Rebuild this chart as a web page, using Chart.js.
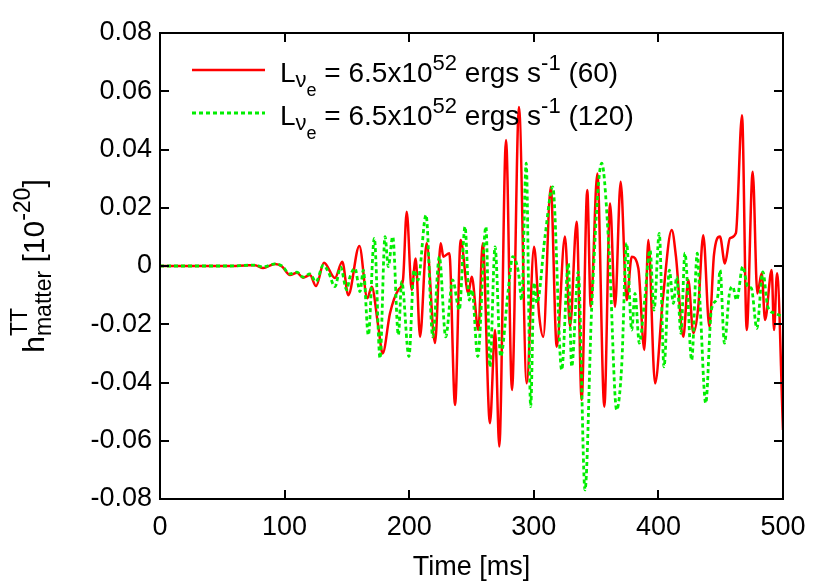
<!DOCTYPE html>
<html>
<head>
<meta charset="utf-8">
<script src="https://cdn.jsdelivr.net/npm/chart.js@4.4.1/dist/chart.umd.min.js"></script>
<style>
  html, body { margin: 0; padding: 0; background: #fff; }
  #wrap { width: 830px; height: 581px; position: relative; }
</style>
</head>
<body>
<div id="wrap"><canvas id="strainChart"></canvas></div>
<script>
// run with 60 angular zones (red, solid)
const time60 = [0, 54.6, 68.2, 76.2, 82.7, 92.3, 97.9, 104.3, 110.0, 114.8, 120.4, 125.2, 131.6, 140.4, 146.3,
  151.1, 160.0, 166.4, 169.9, 175.2, 178.7, 184.6, 191.3, 195.0, 198.0, 202.0, 205.2, 208.7, 214.0, 220.7,
  225.3, 227.4, 232.2, 236.8, 241.3, 247.4, 250.2, 255.5, 259.0, 264.8, 268.9, 272.3, 277.7, 282.5, 288.1,
  294.3, 300.2, 304.4, 307.6, 313.6, 318.4, 325.0, 329.1, 334.4, 338.4, 342.9, 345.7, 351.0, 356.6, 361.2,
  365.2, 369.7, 374.6, 378.6, 383.9, 388.7, 391.9, 397.3, 403.5, 410.7, 414.1, 420.0, 424.0, 428.0, 432.0,
  436.0, 440.9, 444.6, 449.4, 453.4, 457.4, 462.2, 467.1, 470.9, 475.7, 479.4, 482.9, 485.6, 490.9, 492.8,
  495.2, 500];
const strain60 = [0, 0, 0.0002, 0.0003, -0.0007, 0.0007, -0.0002, -0.0031, -0.0023, -0.0040, -0.0031, -0.0069,
  0.0011, -0.0041, 0.0015, -0.0100, 0.0069, -0.0111, -0.0071, -0.0208, -0.0300, -0.0162, -0.0082, -0.0048,
  0.0186, -0.0082, 0.0026, -0.0243, 0.0078, -0.0264, 0.0078, 0.0032, 0.0044, -0.0477, 0.0089, -0.0094,
  -0.0037, -0.0220, 0.0078, -0.0540, -0.0220, -0.0620, 0.0433, -0.0426, 0.0546, -0.0403, 0.0066, -0.0174,
  -0.0243, 0.0272, -0.0277, 0.0101, -0.0208, 0.0152, -0.0460, 0.0261, -0.0140, 0.0318, -0.0483, 0.0215,
  -0.0140, 0.0289, -0.0117, 0.0032, -0.0008, -0.0288, 0.0089, -0.0403, -0.0117, 0.0124, 0.0032, -0.0243,
  -0.0048, -0.0230, -0.0140, 0.0106, -0.0208, 0.0038, 0.0101, 0.0009, 0.0095, 0.0113, 0.0518, -0.0220,
  0.0324, -0.0094, -0.0025, -0.0185, -0.0014, -0.0220, -0.0025, -0.0563];

// run with 120 angular zones (green, dashed)
const time120 = [0, 54.6, 76.2, 82.7, 92.3, 97.9, 104.3, 110.0, 114.8, 120.4, 125.2, 131.1, 135.1, 140.4, 145.0,
  149.8, 152.5, 156.5, 160.5, 163.2, 167.2, 172.0, 176.6, 180.6, 183.2, 186.8, 191.3, 194.0, 199.8, 203.9,
  207.1, 213.5, 218.9, 224.2, 229.3, 234.9, 240.2, 244.8, 248.2, 250.4, 255.0, 261.6, 264.8, 268.9, 273.4,
  279.5, 283.1, 287.6, 290.3, 293.9, 297.5, 300.2, 302.6, 309.0, 315.2, 322.4, 327.7, 330.4, 335.7, 341.1,
  346.5, 354.5, 360.4, 366.5, 370.5, 374.5, 378.6, 381.2, 384.7, 388.7, 393.3, 396.5, 400.7, 404.5, 408.8,
  412.0, 414.7, 418.1, 421.3, 426.7, 431.2, 433.4, 438.0, 442.5, 447.6, 449.5, 453.0, 457.0, 459.6, 462.8,
  467.7, 471.7, 474.6, 479.0, 483.8, 487.8, 493.2, 500];
const strain120 = [0, 0, 0.0003, -0.0003, 0.0007, 0, -0.0027, -0.0021, -0.0038, -0.0027, -0.0054, 0.0003,
  -0.0020, -0.0071, -0.0004, -0.0082, -0.0037, -0.0008, -0.0088, -0.0014, -0.0237, 0.0095, -0.0317, 0.0101,
  -0.0002, 0.0101, -0.0237, -0.0054, -0.0311, -0.0014, -0.0048, 0.0175, -0.0243, 0.0032, -0.0243, -0.0048,
  -0.0151, 0.0135, -0.0117, -0.0082, -0.0311, 0.0135, -0.0346, 0.0066, -0.0311, -0.0082, 0.0032, -0.0020,
  -0.0117, 0.0353, -0.0483, -0.0058, -0.0127, 0.0101, 0.0272, -0.0357, 0.0009, -0.0346, -0.0020, -0.0769,
  -0.0140, 0.0353, 0.0055, -0.0494, -0.0346, 0.0078, -0.0220, -0.0094, -0.0265, -0.0128, 0.0055, -0.0151,
  0.0112, -0.0346, -0.0014, -0.0128, -0.0037, -0.0231, 0.0044, -0.0323, 0.0044, -0.0127, -0.0471, -0.0151,
  -0.0105, -0.0014, -0.0265, -0.0094, -0.0071, -0.0117, -0.0002, -0.0071, -0.0076, -0.0214, -0.0020,
  -0.0140, -0.0162, -0.0174];

const xTicks = [0, 100, 200, 300, 400, 500];
const yTicks = [-0.08, -0.06, -0.04, -0.02, 0, 0.02, 0.04, 0.06, 0.08];
const seriesLabels = ['(60)', '(120)'];

const FONT = '"Liberation Sans", Arial, Helvetica, sans-serif';
const RED = '#ff0000';
const GREEN = '#00ee00';

function toPoints(xs, ys) {
  return xs.map((x, i) => ({ x, y: ys[i] }));
}

// draw a run of text pieces (size, baseline shift, optional fixed advance)
function drawPieces(ctx, pieces, x, y) {
  let cx = x;
  for (const p of pieces) {
    ctx.font = `${p.size}px ${FONT}`;
    ctx.fillText(p.text, cx, y + (p.dy || 0));
    if (p.noAdvance) continue;
    cx += p.width !== undefined ? p.width : ctx.measureText(p.text).width;
  }
  return cx - x;
}

function measurePieces(ctx, pieces) {
  let w = 0;
  for (const p of pieces) {
    ctx.font = `${p.size}px ${FONT}`;
    if (p.noAdvance) continue;
    w += p.width !== undefined ? p.width : ctx.measureText(p.text).width;
  }
  return w;
}

const framePlugin = {
  id: 'frame',
  afterDraw(chart) {
    const { ctx, chartArea: a, scales } = chart;
    ctx.save();
    ctx.strokeStyle = '#000';
    ctx.lineWidth = 2;
    ctx.beginPath();
    for (const v of xTicks) {
      const px = Math.round(scales.x.getPixelForValue(v));
      ctx.moveTo(px, a.bottom); ctx.lineTo(px, a.bottom - 9);
      ctx.moveTo(px, a.top); ctx.lineTo(px, a.top + 9);
    }
    for (const v of yTicks) {
      const py = Math.round(scales.y.getPixelForValue(v));
      ctx.moveTo(a.left, py); ctx.lineTo(a.left + 9, py);
      ctx.moveTo(a.right, py); ctx.lineTo(a.right - 9, py);
    }
    ctx.stroke();
    ctx.strokeRect(a.left, a.top, a.right - a.left, a.bottom - a.top);

    ctx.fillStyle = '#000';
    ctx.textBaseline = 'alphabetic';
    ctx.textAlign = 'left';

    // x axis title
    ctx.font = `27px ${FONT}`;
    const tw = ctx.measureText('Time [ms]').width;
    ctx.fillText('Time [ms]', (a.left + a.right) / 2 - tw / 2, 575);

    // y axis title: h^TT_matter [10^-20]
    ctx.save();
    ctx.translate(44, (a.top + a.bottom) / 2);
    ctx.rotate(-Math.PI / 2);
    ctx.font = `23px ${FONT}`;
    const mw = ctx.measureText('matter').width;
    const yPieces = [
      { text: 'h', size: 30 },
      { text: 'TT', size: 23, dy: -17, noAdvance: true },
      { text: 'matter', size: 23, dy: 7, width: mw },
      { text: ' [10', size: 30 },
      { text: '-20', size: 23, dy: -14 },
      { text: ']', size: 30 },
    ];
    const yw = measurePieces(ctx, yPieces);
    drawPieces(ctx, yPieces, -yw / 2, 0);
    ctx.restore();

    // legend
    const rows = [
      { y: 70, color: RED, dash: [], width: 2.5, label: seriesLabels[0] },
      { y: 113, color: GREEN, dash: [4, 3], width: 2.8, label: seriesLabels[1] },
    ];
    for (const r of rows) {
      ctx.save();
      ctx.strokeStyle = r.color;
      ctx.lineWidth = r.width;
      ctx.setLineDash(r.dash);
      ctx.beginPath();
      ctx.moveTo(192, r.y);
      ctx.lineTo(265, r.y);
      ctx.stroke();
      ctx.restore();
      const base = r.y + 12;
      drawPieces(ctx, [
        { text: 'L', size: 28 },
        { text: '\u03bd', size: 22, dy: 5 },
        { text: 'e', size: 18, dy: 14 },
        { text: ' = 6.5x10', size: 28 },
        { text: '52', size: 22, dy: -12 },
        { text: ' ergs s', size: 28 },
        { text: '-1', size: 22, dy: -12 },
        { text: ' ' + r.label, size: 28 },
      ], 280, base);
    }
    ctx.restore();
  },
};

const ctx = document.getElementById('strainChart').getContext('2d');
new Chart(ctx, {
  type: 'line',
  data: {
    datasets: [
      {
        label: 'L = 6.5x10^52 ergs s^-1 (60)',
        data: toPoints(time60, strain60),
        borderColor: RED,
        borderWidth: 2.5,
        pointRadius: 0,
        cubicInterpolationMode: 'monotone',
        fill: false,
        order: 2,
      },
      {
        label: 'L = 6.5x10^52 ergs s^-1 (120)',
        data: toPoints(time120, strain120),
        borderColor: GREEN,
        borderWidth: 2.8,
        borderDash: [4, 3],
        pointRadius: 0,
        cubicInterpolationMode: 'monotone',
        fill: false,
        order: 1,
      },
    ],
  },
  options: {
    responsive: true,
    maintainAspectRatio: false,
    animation: false,
    layout: { padding: { top: 33, right: 47, left: 0, bottom: 0 } },
    plugins: {
      legend: { display: false },
      tooltip: { enabled: false },
    },
    scales: {
      x: {
        type: 'linear',
        min: 0,
        max: 500,
        afterBuildTicks: (s) => { s.ticks = xTicks.map((v) => ({ value: v })); },
        afterFit: (s) => { s.height = 82; },
        grid: { display: false, drawTicks: false },
        border: { display: false },
        ticks: {
          padding: 12,
          color: '#000',
          font: { family: FONT, size: 27 },
          maxRotation: 0,
          callback: (v) => String(v),
        },
      },
      y: {
        type: 'linear',
        min: -0.08,
        max: 0.08,
        afterBuildTicks: (s) => { s.ticks = yTicks.map((v) => ({ value: v })); },
        afterFit: (s) => { s.width = 160; },
        grid: { display: false, drawTicks: false },
        border: { display: false },
        ticks: {
          padding: 8,
          color: '#000',
          font: { family: FONT, size: 27 },
          callback: (v) => String(Number(v.toFixed(2))),
        },
      },
    },
  },
  plugins: [framePlugin],
});
</script>
</body>
</html>
